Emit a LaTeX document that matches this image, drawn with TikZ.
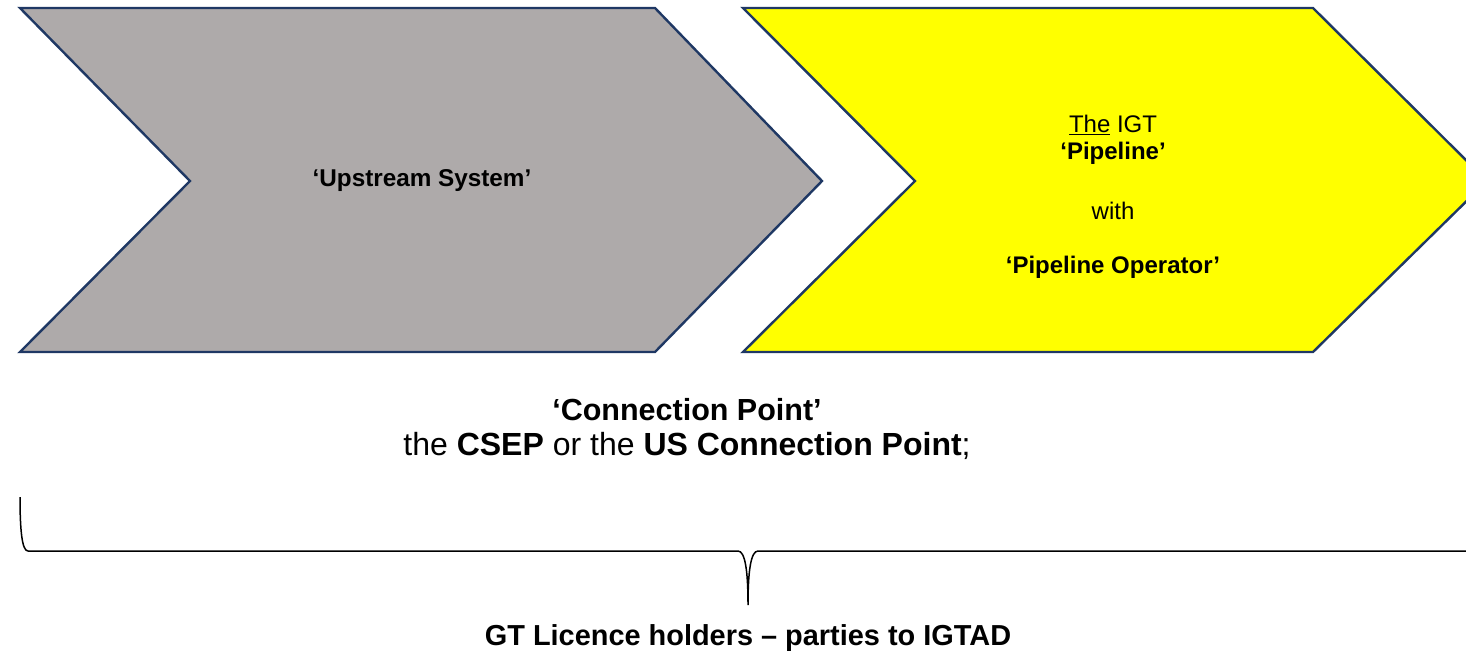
\documentclass[tikz,border=0pt]{standalone}
\usepackage{fontspec}
\setmainfont{Liberation Sans}
\definecolor{chevgray}{HTML}{AEAAAA}
\definecolor{chevyellow}{HTML}{FFFF00}
\definecolor{chevedge}{HTML}{1F3864}
\begin{document}
\begin{tikzpicture}[x=1pt,y=-1pt,
  chevron/.style={draw=chevedge,line width=2.4pt,line join=miter},
  lbl/.style={inner sep=0pt,anchor=center,text=black},
  bracestyle/.style={draw=black,line width=1.5pt}]
\useasboundingbox (0,0) rectangle (1466,654);
\clip (0,0) rectangle (1466,654);
% chevrons
\draw[chevron,fill=chevgray] (20,8) -- (655,8) -- (822,181) -- (655,352) -- (20,352) -- (190,181) -- cycle;
\draw[chevron,fill=chevyellow] (743,8) -- (1313,8) -- (1487,181) -- (1313,352) -- (743,352) -- (915,181) -- cycle;
% texts
\node[lbl,font=\bfseries\fontsize{24.3}{28}\selectfont] (up) at (422,181) {‘Upstream System’};
\node[lbl,font=\fontsize{24}{28}\selectfont] (igt) at (1113,125) {\underline{The} IGT};
\node[lbl,font=\bfseries\fontsize{24}{28}\selectfont] (pipe) at (1113,153) {‘Pipeline’};
\node[lbl,font=\fontsize{24}{28}\selectfont] (with) at (1113,211) {with};
\node[lbl,font=\bfseries\fontsize{24}{28}\selectfont] (oper) at (1113,267) {‘Pipeline Operator’};
\node[lbl,font=\bfseries\fontsize{30.5}{36}\selectfont] (cp) at (687,410) {‘Connection Point’};
\node[lbl,font=\fontsize{32}{38}\selectfont] (cpdef) at (687,446) {the \textbf{CSEP} or the \textbf{US Connection Point};};
\node[lbl,font=\bfseries\fontsize{28.9}{34}\selectfont] (gt) at (748,638) {GT Licence holders – parties to IGTAD};
% brace
\coordinate (bl) at (20,497);
\coordinate (bt) at (748,605);
\coordinate (br) at (1476,497);
\draw[bracestyle] (bl) .. controls (20,530) and (22,551) .. (28,551) -- (738,551)
  .. controls (745,551) and (748,570) .. (bt)
  .. controls (748,570) and (751,551) .. (758,551) -- (1468,551)
  .. controls (1474,551) and (1476,530) .. (br);
\end{tikzpicture}
\end{document}
